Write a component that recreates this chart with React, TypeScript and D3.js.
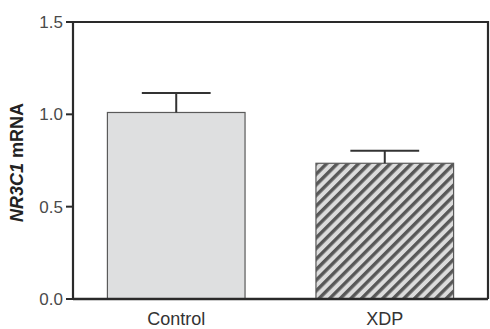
import * as d3 from 'd3';

// Chart data
const groups = ['Control', 'XDP'];
const means = [1.01, 0.735];
const errors = [0.105, 0.068];
const yTicks = [0.0, 0.5, 1.0, 1.5];

export default function App() {
  const width = 490;
  const height = 329;
  const margin = { top: 22, right: 2, bottom: 30, left: 73 };

  const x = d3
    .scaleBand()
    .domain(groups)
    .range([margin.left, width - margin.right])
    .paddingInner(0.34)
    .paddingOuter(0.165);
  const y = d3
    .scaleLinear()
    .domain([0, 1.5])
    .range([height - margin.bottom, margin.top]);

  const x0 = margin.left;
  const x1 = width - margin.right;
  const yb = y(0);
  const yt = y(1.5);
  const fmt = d3.format('.1f');

  return (
    <svg
      width={width}
      height={height}
      style={{ position: 'absolute', left: 0, top: 0, background: '#fff' }}
    >
      <defs>
        <pattern
          id='hatch'
          patternUnits='userSpaceOnUse'
          width={7.5}
          height={7.5}
          patternTransform='rotate(45)'
        >
          <rect width={7.5} height={7.5} fill='#dcdcdc' />
          <rect x={0} y={0} width={3.4} height={7.5} fill='#585858' />
        </pattern>
      </defs>

      {/* bars */}
      {groups.map((g, i) => {
        const bx = x(g) as number;
        const bw = x.bandwidth();
        const cx = bx + bw / 2;
        return (
          <g key={g}>
            <rect
              x={bx}
              y={y(means[i])}
              width={bw}
              height={yb - y(means[i])}
              fill={i === 0 ? '#dedfe0' : 'url(#hatch)'}
              stroke='#5a5a5a'
              strokeWidth={1.2}
            />
            <line
              x1={cx}
              x2={cx}
              y1={y(means[i])}
              y2={y(means[i] + errors[i])}
              stroke='#333'
              strokeWidth={2}
            />
            <line
              x1={cx - bw / 4}
              x2={cx + bw / 4}
              y1={y(means[i] + errors[i])}
              y2={y(means[i] + errors[i])}
              stroke='#333'
              strokeWidth={2}
            />
            <text
              x={cx}
              y={height - 4}
              textAnchor='middle'
              fontFamily='Liberation Sans, Arial, sans-serif'
              fontSize={18}
              fill='#333'
            >
              {g}
            </text>
          </g>
        );
      })}

      {/* frame */}
      <path
        d={`M${x0},${yb}V${yt}H${x1}V${yb}`}
        fill='none'
        stroke='#2a2a2a'
        strokeWidth={2.2}
      />
      <line x1={x0} x2={x1} y1={yb} y2={yb} stroke='#2a2a2a' strokeWidth={2.4} />

      {/* y ticks */}
      {yTicks.map((t) => (
        <g key={t}>
          <line x1={x0 - 7} x2={x0} y1={y(t)} y2={y(t)} stroke='#2a2a2a' strokeWidth={2} />
          <text
            x={x0 - 10}
            y={y(t)}
            dy='0.36em'
            textAnchor='end'
            fontFamily='Liberation Sans, Arial, sans-serif'
            fontSize={17}
            fill='#4a4a4a'
          >
            {fmt(t)}
          </text>
        </g>
      ))}

      {/* y label */}
      <text
        transform={`translate(23, ${(y(0) + y(1.5)) / 2 + 2}) rotate(-90)`}
        textAnchor='middle'
        fontFamily='Liberation Sans, Arial, sans-serif'
        fontSize={18}
        fontWeight='bold'
        fill='#222'
      >
        <tspan fontStyle='italic'>NR3C1</tspan> mRNA
      </text>
    </svg>
  );
}
